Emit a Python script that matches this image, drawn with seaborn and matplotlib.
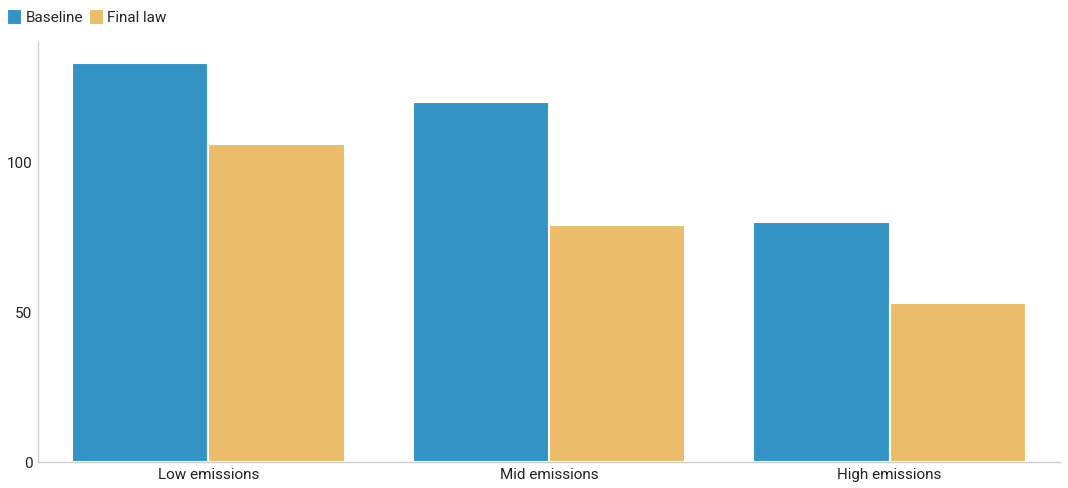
import pandas as pd
import matplotlib
matplotlib.use("Agg")
import matplotlib.pyplot as plt
import seaborn as sns

categories = ["Low emissions", "Mid emissions", "High emissions"]
series_names = ["Baseline", "Final law"]
baseline = [133, 120, 80]
final_law = [106, 79, 53]
colors = ["#3393C4", "#EBBD6A"]

df = pd.DataFrame({
    "scenario": categories * 2,
    "series": [series_names[0]] * 3 + [series_names[1]] * 3,
    "value": baseline + final_law,
})

sns.set_theme(style="white")
plt.rcParams["font.family"] = ["Roboto", "DejaVu Sans"]

fig = plt.figure(figsize=(10.68, 4.88), dpi=100)
ax = fig.add_axes([38 / 1068, 1 - 462 / 488, (1060 - 38) / 1068, (462 - 42) / 488])

sns.barplot(data=df, x="scenario", y="value", hue="series", palette=colors,
            width=0.8, edgecolor="white", linewidth=1.5, saturation=1, ax=ax)

ax.set_xlim(-0.5, 2.5)
ax.set_ylim(0, 140)
ax.set_yticks([0, 50, 100])
ax.set_xlabel("")
ax.set_ylabel("")
ax.tick_params(axis="both", length=0, labelsize=11, colors="#222222", pad=4)
for side in ["top", "right"]:
    ax.spines[side].set_visible(False)
for side in ["left", "bottom"]:
    ax.spines[side].set_color("#cccccc")
    ax.spines[side].set_linewidth(1)

ax.legend(loc="upper left", bbox_to_anchor=(-31 / 1022, 1 + 33 / 420), ncol=2,
          frameon=False, fontsize=11, handlelength=1.0, handleheight=1.2,
          handletextpad=0.2, columnspacing=0.4, borderaxespad=0, borderpad=0)

fig.savefig("out.png", dpi=100)
